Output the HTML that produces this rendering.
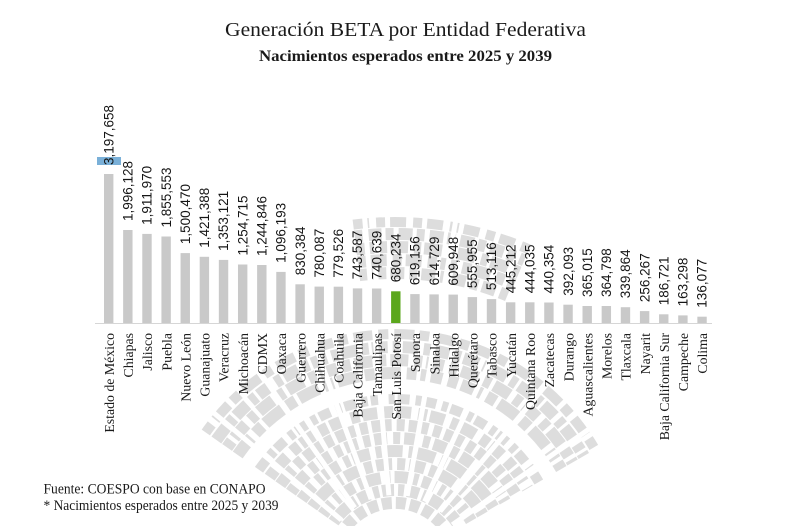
<!DOCTYPE html>
<html>
<head>
<meta charset="utf-8">
<style>
  html,body{margin:0;padding:0;background:#fff;width:800px;height:526px;overflow:hidden;}
  svg{display:block;overflow:hidden;}
  .v{font-family:"Liberation Sans",sans-serif;font-size:13.5px;fill:#151515;}
  .c{font-family:"Liberation Serif",serif;font-size:13.8px;fill:#1a1a1a;}
</style>
</head>
<body>
<svg width="800" height="526" viewBox="0 0 800 526" xmlns="http://www.w3.org/2000/svg">
  <rect width="800" height="526" fill="#fff"/>

  <!-- watermark -->
  <g fill="none" stroke="#dddddd">
    <path d="M346.8,525.9 A62,62 0 0 1 443.2,525.9" stroke-width="12" stroke-dasharray="10 4"/>
    <path d="M333.6,522.0 A75,75 0 0 1 459.1,525.9" stroke-width="12" stroke-dasharray="6 3 12 4"/>
    <path d="M322.9,514.5 A88,88 0 0 1 471.2,521.0" stroke-width="12" stroke-dasharray="14 5 5 4"/>
    <path d="M312.3,507.1 A101,101 0 0 1 482.5,514.5" stroke-width="12" stroke-dasharray="8 4 16 5"/>
    <path d="M301.6,499.6 A114,114 0 0 1 493.7,508.0" stroke-width="12" stroke-dasharray="18 6 6 3"/>
    <path d="M291.0,492.2 A127,127 0 0 1 505.0,501.5" stroke-width="12" stroke-dasharray="7 4 13 6"/>
    <path d="M280.3,484.7 A140,140 0 0 1 516.2,495.0" stroke-width="12" stroke-dasharray="20 5 8 4"/>
    <path d="M269.7,477.2 A153,153 0 0 1 527.5,488.5" stroke-width="12" stroke-dasharray="9 3 15 7"/>
    <path d="M259.0,469.8 A166,166 0 0 1 538.8,482.0" stroke-width="10" stroke-dasharray="12 6 6 3"/>
    <path d="M237.7,454.9 A192,192 0 0 1 561.3,469.0" stroke-width="12" stroke-dasharray="22 6 10 4"/>
    <path d="M227.1,447.4 A205,205 0 0 1 572.5,462.5" stroke-width="12" stroke-dasharray="8 4 18 6"/>
    <path d="M216.4,440.0 A218,218 0 0 1 583.8,456.0" stroke-width="12" stroke-dasharray="16 5 7 3"/>
    <path d="M205.8,432.5 A231,231 0 0 1 595.0,449.5" stroke-width="10" stroke-dasharray="10 6 20 5"/>

    <path d="M359.4,275.2 A292,292 0 0 1 509.1,296.2" stroke-width="12" stroke-dasharray="14 5 8 4"/>
    <path d="M357.8,262.3 A305,305 0 0 1 514.2,284.2" stroke-width="12" stroke-dasharray="9 4 16 6"/>
    <path d="M356.2,249.4 A318,318 0 0 1 519.2,272.3" stroke-width="12" stroke-dasharray="18 6 7 3"/>
    <path d="M354.7,236.5 A331,331 0 0 1 524.3,260.3" stroke-width="12" stroke-dasharray="8 5 14 4"/>
    <path d="M353.2,224.6 A343,343 0 0 1 529.0,249.3" stroke-width="10" stroke-dasharray="16 7 9 5"/>

    <g stroke="#ffffff" stroke-width="5">
      <line x1="341.4" y1="520.0" x2="119.2" y2="333.5"/>
      <line x1="354.8" y1="507.7" x2="188.5" y2="270.1"/>
      <line x1="371.1" y1="499.2" x2="271.9" y2="226.7"/>
      <line x1="388.9" y1="495.3" x2="363.6" y2="206.4"/>
      <line x1="407.2" y1="496.0" x2="457.5" y2="210.5"/>
      <line x1="424.6" y1="501.6" x2="547.1" y2="238.7"/>
      <line x1="440.0" y1="511.4" x2="626.4" y2="289.2"/>
      <line x1="452.3" y1="524.8" x2="689.8" y2="358.5"/>
    </g>
  </g>

  <!-- titles -->
  <text x="405.5" y="36" text-anchor="middle" textLength="361" lengthAdjust="spacingAndGlyphs" font-family="'Liberation Serif',serif" font-size="19.5" fill="#1a1a1a">Generación BETA por Entidad Federativa</text>
  <text x="405.5" y="61" text-anchor="middle" textLength="293" lengthAdjust="spacingAndGlyphs" font-family="'Liberation Serif',serif" font-size="16" font-weight="bold" fill="#1a1a1a">Nacimientos esperados entre 2025 y 2039</text>

  <!-- axis line -->
  <line x1="95" y1="323.5" x2="712" y2="323.5" stroke="#d6d6d6" stroke-width="1"/>

  <!-- highlight behind first label -->
  <rect x="97" y="157" width="24" height="8" fill="#7ab0d8"/>

  <g fill="#c9c9c9">
    <g transform="translate(104,0)"><rect y="174.0" width="9.4" height="149.0"/><text class="v" transform="translate(9.4,165.0) rotate(-90)">3,197,658</text><text class="c" transform="translate(9.9,333) rotate(-90)" text-anchor="end">Estado de México</text></g>
    <g transform="translate(123.14,0)"><rect y="230.0" width="9.4" height="93.0"/><text class="v" transform="translate(9.4,221.0) rotate(-90)">1,996,128</text><text class="c" transform="translate(9.9,333) rotate(-90)" text-anchor="end">Chiapas</text></g>
    <g transform="translate(142.28,0)"><rect y="233.9" width="9.4" height="89.1"/><text class="v" transform="translate(9.4,224.9) rotate(-90)">1,911,970</text><text class="c" transform="translate(9.9,333) rotate(-90)" text-anchor="end">Jalisco</text></g>
    <g transform="translate(161.42,0)"><rect y="236.5" width="9.4" height="86.5"/><text class="v" transform="translate(9.4,227.5) rotate(-90)">1,855,553</text><text class="c" transform="translate(9.9,333) rotate(-90)" text-anchor="end">Puebla</text></g>
    <g transform="translate(180.56,0)"><rect y="253.1" width="9.4" height="69.9"/><text class="v" transform="translate(9.4,244.1) rotate(-90)">1,500,470</text><text class="c" transform="translate(9.9,333) rotate(-90)" text-anchor="end">Nuevo León</text></g>
    <g transform="translate(199.7,0)"><rect y="256.8" width="9.4" height="66.2"/><text class="v" transform="translate(9.4,247.8) rotate(-90)">1,421,388</text><text class="c" transform="translate(9.9,333) rotate(-90)" text-anchor="end">Guanajuato</text></g>
    <g transform="translate(218.84,0)"><rect y="259.9" width="9.4" height="63.1"/><text class="v" transform="translate(9.4,250.9) rotate(-90)">1,353,121</text><text class="c" transform="translate(9.9,333) rotate(-90)" text-anchor="end">Veracruz</text></g>
    <g transform="translate(237.98,0)"><rect y="264.5" width="9.4" height="58.5"/><text class="v" transform="translate(9.4,255.5) rotate(-90)">1,254,715</text><text class="c" transform="translate(9.9,333) rotate(-90)" text-anchor="end">Michoacán</text></g>
    <g transform="translate(257.12,0)"><rect y="265.0" width="9.4" height="58.0"/><text class="v" transform="translate(9.4,256.0) rotate(-90)">1,244,846</text><text class="c" transform="translate(9.9,333) rotate(-90)" text-anchor="end">CDMX</text></g>
    <g transform="translate(276.26,0)"><rect y="271.9" width="9.4" height="51.1"/><text class="v" transform="translate(9.4,262.9) rotate(-90)">1,096,193</text><text class="c" transform="translate(9.9,333) rotate(-90)" text-anchor="end">Oaxaca</text></g>
    <g transform="translate(295.4,0)"><rect y="284.3" width="9.4" height="38.7"/><text class="v" transform="translate(9.4,275.3) rotate(-90)">830,384</text><text class="c" transform="translate(9.9,333) rotate(-90)" text-anchor="end">Guerrero</text></g>
    <g transform="translate(314.54,0)"><rect y="286.6" width="9.4" height="36.4"/><text class="v" transform="translate(9.4,277.6) rotate(-90)">780,087</text><text class="c" transform="translate(9.9,333) rotate(-90)" text-anchor="end">Chihuahua</text></g>
    <g transform="translate(333.68,0)"><rect y="286.7" width="9.4" height="36.3"/><text class="v" transform="translate(9.4,277.7) rotate(-90)">779,526</text><text class="c" transform="translate(9.9,333) rotate(-90)" text-anchor="end">Coahuila</text></g>
    <g transform="translate(352.82,0)"><rect y="288.4" width="9.4" height="34.6"/><text class="v" transform="translate(9.4,279.4) rotate(-90)">743,587</text><text class="c" transform="translate(9.9,333) rotate(-90)" text-anchor="end">Baja California</text></g>
    <g transform="translate(371.96,0)"><rect y="288.5" width="9.4" height="34.5"/><text class="v" transform="translate(9.4,279.5) rotate(-90)">740,639</text><text class="c" transform="translate(9.9,333) rotate(-90)" text-anchor="end">Tamaulipas</text></g>
    <g transform="translate(391.1,0)"><rect y="291.3" width="9.4" height="31.7" fill="#5ba71c"/><text class="v" transform="translate(9.4,282.3) rotate(-90)">680,234</text><text class="c" transform="translate(9.9,333) rotate(-90)" text-anchor="end">San Luis Potosí</text></g>
    <g transform="translate(410.24,0)"><rect y="294.1" width="9.4" height="28.9"/><text class="v" transform="translate(9.4,285.1) rotate(-90)">619,156</text><text class="c" transform="translate(9.9,333) rotate(-90)" text-anchor="end">Sonora</text></g>
    <g transform="translate(429.38,0)"><rect y="294.4" width="9.4" height="28.6"/><text class="v" transform="translate(9.4,285.4) rotate(-90)">614,729</text><text class="c" transform="translate(9.9,333) rotate(-90)" text-anchor="end">Sinaloa</text></g>
    <g transform="translate(448.52,0)"><rect y="294.6" width="9.4" height="28.4"/><text class="v" transform="translate(9.4,285.6) rotate(-90)">609,948</text><text class="c" transform="translate(9.9,333) rotate(-90)" text-anchor="end">Hidalgo</text></g>
    <g transform="translate(467.66,0)"><rect y="297.1" width="9.4" height="25.9"/><text class="v" transform="translate(9.4,288.1) rotate(-90)">555,955</text><text class="c" transform="translate(9.9,333) rotate(-90)" text-anchor="end">Querétaro</text></g>
    <g transform="translate(486.8,0)"><rect y="299.1" width="9.4" height="23.9"/><text class="v" transform="translate(9.4,290.1) rotate(-90)">513,116</text><text class="c" transform="translate(9.9,333) rotate(-90)" text-anchor="end">Tabasco</text></g>
    <g transform="translate(505.94,0)"><rect y="302.3" width="9.4" height="20.7"/><text class="v" transform="translate(9.4,293.3) rotate(-90)">445,212</text><text class="c" transform="translate(9.9,333) rotate(-90)" text-anchor="end">Yucatán</text></g>
    <g transform="translate(525.08,0)"><rect y="302.3" width="9.4" height="20.7"/><text class="v" transform="translate(9.4,293.3) rotate(-90)">444,035</text><text class="c" transform="translate(9.9,333) rotate(-90)" text-anchor="end">Quintana Roo</text></g>
    <g transform="translate(544.22,0)"><rect y="302.5" width="9.4" height="20.5"/><text class="v" transform="translate(9.4,293.5) rotate(-90)">440,354</text><text class="c" transform="translate(9.9,333) rotate(-90)" text-anchor="end">Zacatecas</text></g>
    <g transform="translate(563.36,0)"><rect y="304.7" width="9.4" height="18.3"/><text class="v" transform="translate(9.4,295.7) rotate(-90)">392,093</text><text class="c" transform="translate(9.9,333) rotate(-90)" text-anchor="end">Durango</text></g>
    <g transform="translate(582.5,0)"><rect y="306.0" width="9.4" height="17.0"/><text class="v" transform="translate(9.4,297.0) rotate(-90)">365,015</text><text class="c" transform="translate(9.9,333) rotate(-90)" text-anchor="end">Aguascalientes</text></g>
    <g transform="translate(601.64,0)"><rect y="306.0" width="9.4" height="17.0"/><text class="v" transform="translate(9.4,297.0) rotate(-90)">364,798</text><text class="c" transform="translate(9.9,333) rotate(-90)" text-anchor="end">Morelos</text></g>
    <g transform="translate(620.78,0)"><rect y="307.2" width="9.4" height="15.8"/><text class="v" transform="translate(9.4,298.2) rotate(-90)">339,864</text><text class="c" transform="translate(9.9,333) rotate(-90)" text-anchor="end">Tlaxcala</text></g>
    <g transform="translate(639.92,0)"><rect y="311.1" width="9.4" height="11.9"/><text class="v" transform="translate(9.4,302.1) rotate(-90)">256,267</text><text class="c" transform="translate(9.9,333) rotate(-90)" text-anchor="end">Nayarit</text></g>
    <g transform="translate(659.06,0)"><rect y="314.3" width="9.4" height="8.7"/><text class="v" transform="translate(9.4,305.3) rotate(-90)">186,721</text><text class="c" transform="translate(9.9,333) rotate(-90)" text-anchor="end">Baja California Sur</text></g>
    <g transform="translate(678.2,0)"><rect y="315.4" width="9.4" height="7.6"/><text class="v" transform="translate(9.4,306.4) rotate(-90)">163,298</text><text class="c" transform="translate(9.9,333) rotate(-90)" text-anchor="end">Campeche</text></g>
    <g transform="translate(697.34,0)"><rect y="316.7" width="9.4" height="6.3"/><text class="v" transform="translate(9.4,307.7) rotate(-90)">136,077</text><text class="c" transform="translate(9.9,333) rotate(-90)" text-anchor="end">Colima</text></g>
  </g>

  <!-- footer -->
  <text x="43.5" y="493.3" textLength="222" lengthAdjust="spacingAndGlyphs" font-family="'Liberation Serif',serif" font-size="14.5" fill="#1a1a1a">Fuente: COESPO con base en CONAPO</text>
  <text x="43.5" y="510" textLength="235" lengthAdjust="spacingAndGlyphs" font-family="'Liberation Serif',serif" font-size="14.5" fill="#1a1a1a">* Nacimientos esperados entre 2025 y 2039</text>
</svg>
</body>
</html>
